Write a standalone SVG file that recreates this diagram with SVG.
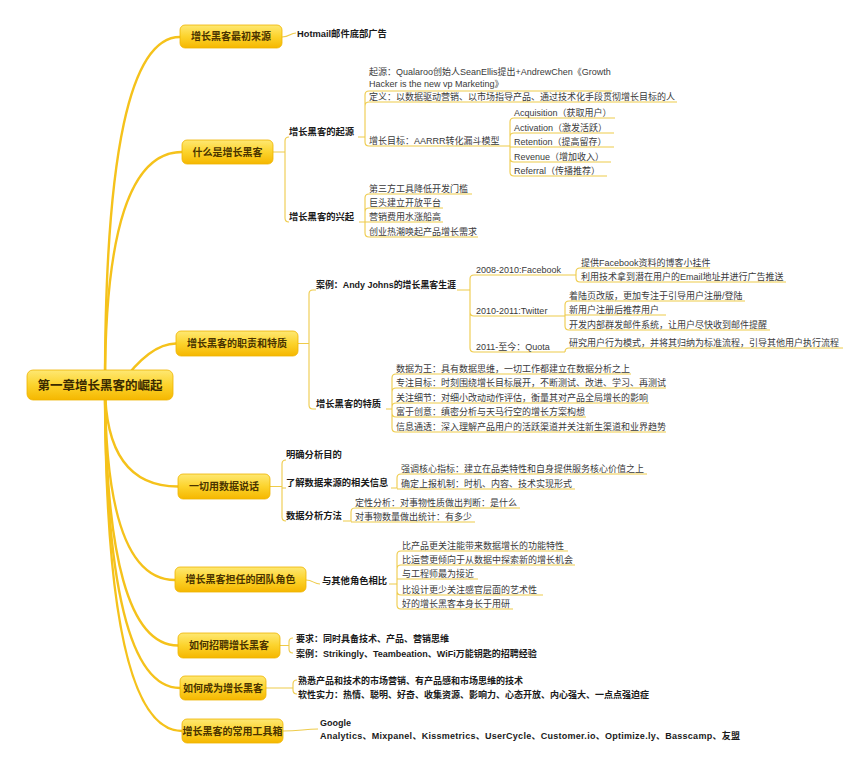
<svg xmlns="http://www.w3.org/2000/svg" width="868" height="768" viewBox="0 0 868 768">
<defs>
<linearGradient id="g" x1="0" y1="0" x2="0" y2="1">
<stop offset="0" stop-color="#fee873"/>
<stop offset="0.5" stop-color="#fcd32c"/>
<stop offset="1" stop-color="#f5b700"/>
</linearGradient>
<style>
.n rect{fill:url(#g);stroke:#efb400;stroke-width:0.8}
.nt{font-family:"Noto Sans CJK SC",sans-serif;font-weight:bold;font-size:10px;fill:#4a3400;text-anchor:middle}
.rt{font-family:"Noto Sans CJK SC",sans-serif;font-weight:bold;font-size:12.5px;fill:#3a2a00;text-anchor:middle}
.b{font-family:"Liberation Sans","Noto Sans CJK SC",sans-serif;font-weight:bold;font-size:9.3px;fill:#1a1a1a}
.bs{font-family:"Liberation Sans","Noto Sans CJK SC",sans-serif;font-weight:bold;font-size:9px;fill:#1a1a1a}
.l{font-family:"Liberation Sans","Noto Sans CJK SC",sans-serif;font-size:9px;fill:#3a3a3a}
.main{fill:none;stroke:#f5c21b;stroke-width:2.4;stroke-linecap:round}
.br{fill:none;stroke:#eecb4a;stroke-width:1.1}
</style>
</defs>
<rect width="868" height="768" fill="#ffffff"/>

<g id="connectors">
<path class="main" d="M105,385 Q105,37 180,37"/>
<path class="main" d="M105,385 Q105,152 182,152"/>
<path class="main" d="M120,385 Q150,343.5 176,343.5"/>
<path class="main" d="M105,385 Q105,486.5 178,486.5"/>
<path class="main" d="M105,385 Q105,580 175,580"/>
<path class="main" d="M105,385 Q105,645.5 178,645.5"/>
<path class="main" d="M105,385 Q105,688 180,688"/>
<path class="main" d="M105,385 Q105,731 182,731"/>

<path class="br" d="M282,37 C290,37 290,33 296,33"/>

<path class="br" d="M273,152 H285 V141 Q285,137 289,137 M285,152 V218 Q285,222 289,222"/>
<path class="br" d="M358,137 H365 V95 Q365,91 369,91 H612 M365,137 V106 Q365,102 369,102 H677 M365,137 V142 Q365,146 369,146 H510"/>
<path class="br" d="M510,146 V122 Q510,118 514,118 H615 M510,146 V137 Q510,133 514,133 H614 M510,147 H614 M510,146 V158 Q510,162 514,162 H611 M510,146 V172 Q510,176 514,176 H607"/>
<path class="br" d="M359,222 H365 V198 Q365,194 369,194 H472 M365,222 V212 Q365,208 369,208 H443 M365,222 H443 M365,222 V233 Q365,237 369,237 H478"/>

<path class="br" d="M298,343.5 H309 V294 Q309,290 313,290 H316 M309,343.5 V405 Q309,409 313,409 H316"/>
<path class="br" d="M457,290 H470 V279 Q470,275 474,275 H576 M470,290 V312 Q470,316 474,316 H565 M470,290 V348 Q470,352 474,352 H565"/>
<path class="br" d="M576,275 V272 Q576,268 580,268 H710 M576,275 V278 Q576,282 580,282 H786"/>
<path class="br" d="M565,316 V305 Q565,301 569,301 H745 M565,315 H666 M565,316 V326 Q565,330 569,330 H770"/>
<path class="br" d="M565,352 Q565,348 569,348 H843"/>
<path class="br" d="M386,409 H392 V378 Q392,374 396,374 H631 M392,409 V392 Q392,388 396,388 H666 M392,409 V407 Q392,403 396,403 H649 M392,409 V413 Q392,417 396,417 H586 M392,409 V428 Q392,432 396,432 H666"/>

<path class="br" d="M270,486.5 H282 V464 Q282,460 286,460 M282,488 H286 M282,486.5 V517 Q282,521 286,521"/>
<path class="br" d="M391,488 H397 V478 Q397,474 401,474 H647 M397,489 H575"/>
<path class="br" d="M343,521 H351 V512 Q351,508 355,508 H520 M351,522 H475"/>

<path class="br" d="M306,580 C313,580 314,584 320,584"/>
<path class="br" d="M389,584 H397 V555 Q397,551 401,551 H568 M397,584 V569 Q397,565 401,565 H575 M397,579 H478 M397,584 V591 Q397,595 401,595 H543 M397,584 V605 Q397,609 401,609 H513"/>

<path class="br" d="M280,645.5 H289 M289,645.5 V642 Q289,638 293,638 M289,645.5 V649 Q289,653 293,653"/>
<path class="br" d="M266,688 H293 M293,688 V684 Q293,680 297,680 M293,688 V690 Q293,694 297,694"/>
<path class="br" d="M283,731 C300,731 304,729 318,729"/>
</g>

<g id="root" class="n">
<rect x="27" y="370" width="146" height="30" rx="6"/>
<text class="rt" x="100" y="389.5">第一章增长黑客的崛起</text>
</g>

<g id="n1" class="n">
<rect x="180" y="25" width="102" height="23" rx="5"/>
<text class="nt" x="231" y="40">增长黑客最初来源</text>
</g>
<g id="n1-1"><text class="b" x="297" y="36.5">Hotmail邮件底部广告</text></g>

<g id="n2" class="n">
<rect x="182" y="140" width="91" height="24" rx="5"/>
<text class="nt" x="227.5" y="155.5">什么是增长黑客</text>
</g>
<g id="n2-1"><text class="b" x="289" y="135">增长黑客的起源</text></g>
<g id="n2-1-1"><text class="l" x="369" y="75">起源：Qualaroo创始人SeanEllis提出+AndrewChen《Growth</text><text class="l" x="369" y="86.5">Hacker is the new vp Marketing》</text></g>
<g id="n2-1-2"><text class="l" x="369" y="99.5">定义：以数据驱动营销、以市场指导产品、通过技术化手段贯彻增长目标的人</text></g>
<g id="n2-1-3"><text class="l" x="369" y="143.5">增长目标：AARRR转化漏斗模型</text></g>
<g id="n2-1-3-1"><text class="l" x="514" y="115.5">Acquisition（获取用户）</text></g>
<g id="n2-1-3-2"><text class="l" x="514" y="130.5">Activation（激发活跃）</text></g>
<g id="n2-1-3-3"><text class="l" x="514" y="144.5">Retention（提高留存）</text></g>
<g id="n2-1-3-4"><text class="l" x="514" y="159.5">Revenue（增加收入）</text></g>
<g id="n2-1-3-5"><text class="l" x="514" y="173.5">Referral（传播推荐）</text></g>
<g id="n2-2"><text class="b" x="289" y="219.5">增长黑客的兴起</text></g>
<g id="n2-2-1"><text class="l" x="369" y="191.5">第三方工具降低开发门槛</text></g>
<g id="n2-2-2"><text class="l" x="369" y="205.5">巨头建立开放平台</text></g>
<g id="n2-2-3"><text class="l" x="369" y="219.5">营销费用水涨船高</text></g>
<g id="n2-2-4"><text class="l" x="369" y="234.5">创业热潮唤起产品增长需求</text></g>

<g id="n3" class="n">
<rect x="176" y="331" width="122" height="25" rx="5"/>
<text class="nt" x="237" y="347">增长黑客的职责和特质</text>
</g>
<g id="n3-1"><text class="b" x="316" y="287.5" textLength="140" lengthAdjust="spacingAndGlyphs">案例：Andy Johns的增长黑客生涯</text></g>
<g id="n3-1-1"><text class="l" x="476" y="272.5">2008-2010:Facebook</text></g>
<g id="n3-1-1-1"><text class="l" x="581" y="265.5">提供Facebook资料的博客小挂件</text></g>
<g id="n3-1-1-2"><text class="l" x="581" y="279.5">利用技术拿到潜在用户的Email地址并进行广告推送</text></g>
<g id="n3-1-2"><text class="l" x="476" y="313.5">2010-2011:Twitter</text></g>
<g id="n3-1-2-1"><text class="l" x="569" y="298.5">着陆页改版，更加专注于引导用户注册/登陆</text></g>
<g id="n3-1-2-2"><text class="l" x="569" y="312.5">新用户注册后推荐用户</text></g>
<g id="n3-1-2-3"><text class="l" x="569" y="327.5">开发内部群发邮件系统，让用户尽快收到邮件提醒</text></g>
<g id="n3-1-3"><text class="l" x="476" y="349.5">2011-至今：Quota</text></g>
<g id="n3-1-3-1"><text class="l" x="569" y="345.5">研究用户行为模式，并将其归纳为标准流程，引导其他用户执行流程</text></g>
<g id="n3-2"><text class="b" x="316" y="406.5">增长黑客的特质</text></g>
<g id="n3-2-1"><text class="l" x="396" y="371.5">数据为王：具有数据思维，一切工作都建立在数据分析之上</text></g>
<g id="n3-2-2"><text class="l" x="396" y="385.5">专注目标：时刻围绕增长目标展开，不断测试、改进、学习、再测试</text></g>
<g id="n3-2-3"><text class="l" x="396" y="400.5">关注细节：对细小改动动作评估，衡量其对产品全局增长的影响</text></g>
<g id="n3-2-4"><text class="l" x="396" y="414.5">富于创意：缜密分析与天马行空的增长方案构想</text></g>
<g id="n3-2-5"><text class="l" x="396" y="429.5">信息通透：深入理解产品用户的活跃渠道并关注新生渠道和业界趋势</text></g>

<g id="n4" class="n">
<rect x="178" y="474" width="92" height="25" rx="5"/>
<text class="nt" x="224" y="490">一切用数据说话</text>
</g>
<g id="n4-1"><text class="b" x="286" y="457.5">明确分析目的</text></g>
<g id="n4-2"><text class="b" x="286" y="485.5">了解数据来源的相关信息</text></g>
<g id="n4-2-1"><text class="l" x="401" y="471.5">强调核心指标：建立在品类特性和自身提供服务核心价值之上</text></g>
<g id="n4-2-2"><text class="l" x="401" y="486.5">确定上报机制：时机、内容、技术实现形式</text></g>
<g id="n4-3"><text class="b" x="286" y="518.5">数据分析方法</text></g>
<g id="n4-3-1"><text class="l" x="355" y="505.5">定性分析：对事物性质做出判断：是什么</text></g>
<g id="n4-3-2"><text class="l" x="355" y="519.5">对事物数量做出统计：有多少</text></g>

<g id="n5" class="n">
<rect x="175" y="567" width="131" height="25" rx="5"/>
<text class="nt" x="240.5" y="583">增长黑客担任的团队角色</text>
</g>
<g id="n5-1"><text class="b" x="322" y="583.5">与其他角色相比</text></g>
<g id="n5-1-1"><text class="l" x="402" y="548.5">比产品更关注能带来数据增长的功能特性</text></g>
<g id="n5-1-2"><text class="l" x="402" y="562.5">比运营更倾向于从数据中探索新的增长机会</text></g>
<g id="n5-1-3"><text class="l" x="402" y="576.5">与工程师最为接近</text></g>
<g id="n5-1-4"><text class="l" x="402" y="592.5">比设计更少关注感官层面的艺术性</text></g>
<g id="n5-1-5"><text class="l" x="402" y="606.5">好的增长黑客本身长于用研</text></g>

<g id="n6" class="n">
<rect x="178" y="633" width="102" height="25" rx="5"/>
<text class="nt" x="229" y="649">如何招聘增长黑客</text>
</g>
<g id="n6-1"><text class="bs" x="296" y="641.5">要求：同时具备技术、产品、营销思维</text></g>
<g id="n6-2"><text class="bs" x="296" y="656.5">案例：Strikingly、Teambeation、WiFi万能钥匙的招聘经验</text></g>

<g id="n7" class="n">
<rect x="180" y="676" width="86" height="24" rx="5"/>
<text class="nt" x="223" y="691.5">如何成为增长黑客</text>
</g>
<g id="n7-1"><text class="bs" x="298" y="683.5">熟悉产品和技术的市场营销、有产品感和市场思维的技术</text></g>
<g id="n7-2"><text class="bs" x="298" y="697.5">软性实力：热情、聪明、好奇、收集资源、影响力、心态开放、内心强大、一点点强迫症</text></g>

<g id="n8" class="n">
<rect x="182" y="719" width="101" height="24" rx="5"/>
<text class="nt" x="232.5" y="734.5">增长黑客的常用工具箱</text>
</g>
<g id="n8-1"><text class="bs" x="320" y="725.5">Google</text><text class="bs" x="320" y="738.5" textLength="420">Analytics、Mixpanel、Kissmetrics、UserCycle、Customer.io、Optimize.ly、Basscamp、友盟</text></g>
</svg>
